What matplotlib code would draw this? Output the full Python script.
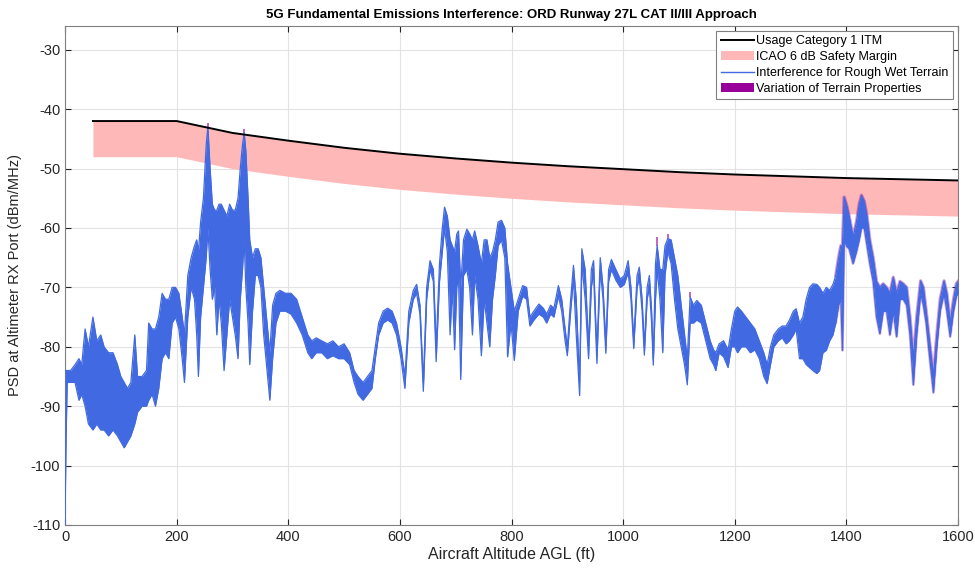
import numpy as np
import matplotlib
matplotlib.use("Agg")
import matplotlib.pyplot as plt
from matplotlib.patches import Patch
from matplotlib.lines import Line2D

plt.rcParams['font.family'] = ['Liberation Sans', 'DejaVu Sans']
plt.rcParams['axes.unicode_minus'] = False

# Usage Category 1 ITM limit
itm_alt = [50, 200, 250, 300, 400, 500, 600, 700, 800, 900, 1000,
           1100, 1200, 1300, 1400, 1500, 1600]
itm_psd = [-42.0, -42.0, -43.0, -44.0, -45.3, -46.5, -47.5, -48.3, -49.0,
           -49.6, -50.1, -50.6, -51.0, -51.3, -51.6, -51.8, -52.0]
icao_margin_db = 6

# interference trace (rough wet terrain), upper / lower envelope
alt_ft = [0, 2, 4, 10, 18, 25, 30, 36, 42, 50,
          57, 64, 70, 78, 86, 94, 100, 106, 112, 118,
          125, 130, 138, 146, 150, 156, 162, 168, 174, 180,
          186, 192, 198, 204, 210, 214, 220, 226, 232, 236,
          239, 243, 248, 253, 256, 260, 264, 268, 272, 276,
          280, 285, 290, 295, 300, 305, 310, 314, 318, 321,
          324, 328, 331, 336, 341, 346, 351, 356, 362, 367,
          372, 378, 385, 395, 405, 415, 425, 435, 442, 450,
          460, 470, 480, 490, 500, 510, 518, 525, 534, 542,
          550, 556, 562, 570, 578, 586, 594, 602, 609, 616,
          624, 630, 636, 642, 648, 654, 660, 665, 671, 676,
          680, 685, 690, 694, 698, 702, 705, 709, 714, 720,
          725, 730, 734, 740, 746, 751, 756, 761, 766, 771,
          776, 782, 788, 793, 799, 805, 812, 820, 827, 833,
          840, 849, 857, 863, 870, 876, 884, 890, 896, 900,
          906, 911, 916, 922, 926, 932, 938, 943, 947, 953,
          959, 964, 969, 974, 979, 987, 995, 1002, 1009, 1014,
          1019, 1025, 1029, 1034, 1038, 1043, 1047, 1051, 1054, 1058,
          1061, 1066, 1071, 1075, 1080, 1086, 1092, 1098, 1104, 1110,
          1115, 1120, 1126, 1132, 1140, 1148, 1156, 1162, 1166, 1172,
          1180, 1188, 1194, 1200, 1205, 1212, 1220, 1228, 1236, 1244,
          1252, 1258, 1264, 1270, 1278, 1285, 1292, 1298, 1305, 1310,
          1316, 1322, 1328, 1334, 1340, 1347, 1352, 1358, 1364, 1370,
          1376, 1381, 1386, 1390, 1393, 1396, 1400, 1405, 1412, 1418,
          1423, 1427, 1432, 1437, 1442, 1448, 1454, 1460, 1466, 1472,
          1478, 1484, 1490, 1496, 1502, 1508, 1514, 1520, 1526, 1533,
          1538, 1543, 1550, 1556, 1562, 1568, 1575, 1580, 1586, 1592,
          1597, 1600]
psd_upper = [-84, -84, -84, -84, -83, -82, -83, -77, -80, -75,
             -79, -78, -80, -81, -81, -83, -85, -86, -87, -86,
             -78, -85, -85, -84, -76, -77, -77, -75, -71, -72,
             -72, -70, -70, -71, -75, -78, -68, -65, -63, -62,
             -64, -59, -55, -46, -43, -50, -56, -57, -57, -56,
             -56, -57, -58, -56, -57, -57, -55, -50, -46, -44,
             -47, -55, -62, -65, -63.5, -63.5, -65, -70, -76, -81,
             -73, -71, -70.5, -71, -71, -72, -75, -78, -79, -78.5,
             -79, -79.5, -79, -80, -79.5, -81, -84, -85, -86, -85,
             -84, -80, -76, -74, -73.5, -74, -76, -80, -85, -74,
             -70.5, -69.5, -73, -86, -70, -65.5, -67, -80, -66, -60,
             -56.5, -58, -62, -63, -64, -61, -60.5, -70, -62, -60.2,
             -61, -62, -60.5, -63, -66, -62, -62, -65, -64, -62,
             -59, -58.7, -60, -66, -70, -74, -72, -69.7, -70, -75,
             -74, -72.8, -73.5, -74.5, -73, -73.5, -69.7, -72, -77, -80,
             -72, -66.3, -72, -86, -63.5, -67, -80, -67, -65.5, -81,
             -65, -70, -79.5, -67, -65.3, -67, -68.6, -68, -65.5, -70,
             -79, -68, -66.6, -72, -80, -70, -68, -74, -82, -66,
             -63, -67, -67, -63, -61.8, -62, -65, -68, -73, -78,
             -82, -71.6, -73, -72.2, -73, -76, -79, -80.5, -81, -79.5,
             -79, -80.5, -77, -74, -73.3, -74, -75, -76, -77, -79,
             -81, -83, -80, -78, -77, -76.5, -76.5, -75.5, -74, -73.6,
             -76, -75, -72, -70, -69.4, -69.5, -70, -71, -70, -70.5,
             -69.5, -68, -65, -63, -63, -54.8, -56, -58, -61.5, -59,
             -56, -54.5, -55.5, -58, -62, -65, -69, -70, -69.4, -70,
             -71, -68.3, -71, -69, -69.4, -70, -75, -82, -75, -68.9,
             -70, -74, -80, -85, -78, -72, -68.9, -71, -76, -72,
             -69.4, -69]
psd_lower = [-110, -95, -86, -86, -86, -89, -88, -90, -93, -94,
             -93, -94, -94, -95, -94, -95, -96, -97, -96, -95,
             -93, -91, -90, -90, -89, -88, -90, -87, -82, -81,
             -82, -76, -75, -77, -82, -86, -75, -70, -72, -78,
             -85, -75, -70, -65, -60, -67, -72, -70, -78, -72,
             -76, -84, -78, -72, -75, -78, -82, -72, -67, -62,
             -70, -76, -83, -74, -68, -68, -70, -78, -84, -89,
             -82, -76, -74, -74, -74.5, -76, -78, -81, -82, -81,
             -81, -82, -81.5, -82, -82, -83, -86, -88, -89, -88,
             -87, -82, -78, -76, -75.5, -76, -78, -82, -87, -76,
             -72, -71, -74.5, -87.5, -72, -67, -69, -82.5, -69, -64,
             -60, -64, -78, -70, -80.5, -70, -68, -85.5, -68, -67,
             -70, -78, -68, -72, -81.5, -72, -76, -80, -72, -68,
             -63, -62, -65, -81.7, -76, -82.3, -74, -71.5, -72, -76.5,
             -75.5, -74.5, -75, -76, -74.5, -75, -71.5, -74, -79, -81.5,
             -74, -68.5, -78, -88.2, -66, -72, -82, -70, -67.5, -82.8,
             -67, -72, -81.1, -69, -67, -68.8, -70, -69.5, -67.5, -72,
             -80.3, -70, -68.5, -74, -81.4, -72, -70, -76, -83.1, -72,
             -67, -72, -81, -68, -64, -66, -72, -77, -80, -83,
             -86.4, -76, -76, -75.5, -76, -79, -82, -83, -84, -81,
             -81.7, -83.5, -80, -80, -81, -80, -80, -81, -80.5, -82,
             -85, -86.2, -83, -80, -79, -78.5, -79.5, -79, -78, -77,
             -82, -82, -83, -83.5, -84, -84.5, -84, -81, -80.6, -79,
             -78, -76, -73, -72, -80.6, -62, -63, -63.5, -66, -64,
             -62, -60, -60, -63, -66, -69, -75, -77.8, -74, -74,
             -78, -74, -78.3, -72, -72, -73, -78, -86.4, -78, -71,
             -73, -76, -82.5, -87.7, -80, -74, -71, -74, -78.3, -74,
             -71.5, -71]

# terrain-property variation, visible above this altitude and at a few peaks
variation_from_ft = 1380
var_peak_alt = [256, 321, 1061, 1080, 1120]
var_peak_top = [-42.4, -43.3, -61.5, -61.0, -70.8]

blue = '#4169e1'
purple = '#990099'
pink = '#ffb8b8'

fig = plt.figure(figsize=(9.75, 5.71), dpi=100)
ax = fig.add_axes([65 / 975, 46 / 571, 893 / 975, 499 / 571])

alt = np.array(alt_ft)
hi = np.array(psd_upper)
lo = np.array(psd_lower)

itm = np.array(itm_psd)
ax.fill_between(itm_alt, itm - icao_margin_db, itm, color=pink, lw=0, zorder=2)
ax.plot(itm_alt, itm, color='black', lw=1.4, zorder=5)

# purple variation fringe
m = alt >= variation_from_ft
ax.plot(alt[m], hi[m], color=purple, lw=2.4, alpha=0.4, zorder=3)
ax.plot(alt[m], lo[m], color=purple, lw=2.0, alpha=0.3, zorder=3)
peak_base = np.interp(var_peak_alt, alt, hi)
ax.vlines(var_peak_alt, peak_base, var_peak_top, color=purple, lw=1.2, alpha=0.7, zorder=3)

ax.fill_between(alt, lo, hi, color=blue, lw=0, zorder=4)
ax.plot(alt, hi, color=blue, lw=0.9, zorder=4)
ax.plot(alt, lo, color=blue, lw=0.9, zorder=4)

ax.set_xlim(0, 1600)
ax.set_ylim(-110, -26)
ax.set_xticks(np.arange(0, 1601, 200))
ax.set_yticks(np.arange(-110, -29, 10))
ax.grid(True, color='#e3e3e3', lw=0.8)
ax.set_axisbelow(True)
ax.tick_params(direction='in', top=True, right=True, length=4,
               labelsize=10.5, colors='#262626')
for s in ax.spines.values():
    s.set_color('#808080')
    s.set_linewidth(0.8)

ax.set_title('5G Fundamental Emissions Interference: ORD Runway 27L CAT II/III Approach',
             fontsize=9.5, fontweight='bold', pad=6)
ax.set_xlabel('Aircraft Altitude AGL (ft)', fontsize=11.5, color='#262626', labelpad=2)
ax.set_ylabel('PSD at Altimeter RX Port (dBm/MHz)', fontsize=10.5, color='#262626', labelpad=6)

handles = [Line2D([], [], color='black', lw=1.4),
           Patch(facecolor=pink, edgecolor='none'),
           Line2D([], [], color=blue, lw=1.0),
           Patch(facecolor=purple, edgecolor='none')]
labels = ['Usage Category 1 ITM', 'ICAO 6 dB Safety Margin',
          'Interference for Rough Wet Terrain', 'Variation of Terrain Properties']
leg = ax.legend(handles, labels, loc='upper right', fontsize=9, frameon=True,
                fancybox=False, edgecolor='#808080', framealpha=1,
                handlelength=2.7, handletextpad=0.15, labelspacing=0.3,
                borderpad=0.35, borderaxespad=0.4)
leg.get_frame().set_linewidth(0.8)

fig.savefig('out.png', dpi=100)
